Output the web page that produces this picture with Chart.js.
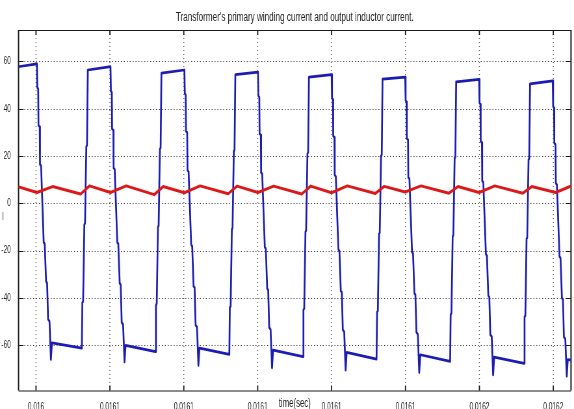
<!DOCTYPE html>
<html>
<head>
<meta charset="utf-8">
<script src="https://cdn.jsdelivr.net/npm/chart.js@4.4.1/dist/chart.umd.min.js"></script>
<style>
  html, body { margin: 0; padding: 0; background: #fff; overflow: hidden; }
  /* the figure is drawn wide and squeezed horizontally, like the exported scope plot */
  #wrap { width: 883px; height: 409px; transform: scaleX(0.65006); transform-origin: 0 0; }
</style>
</head>
<body>
<div id="wrap"><canvas id="chart" width="883" height="409"></canvas></div>
<script>
const TITLE = "Transformer's primary winding current and output inductor current.";
const X_TITLE = 'time(sec)';
const Y_TITLE = 'I';

// time axis in microseconds after t = 16 ms
const X_MIN = 24.09;
const X_MAX = 210.99;
const X_TICKS = [30, 55, 80, 105, 130, 155, 180, 205];
const X_TICK_LABELS = ['0.016', '0.0161', '0.0161', '0.0161', '0.0161', '0.0161', '0.0162', '0.0162'];

const Y_MIN = -79.1;
const Y_MAX = 73.3;
const Y_TICKS = [-60, -40, -20, 0, 20, 40, 60];

// transformer primary current: one line per switching period (fall, trough end, rise)
const PRIMARY_T = [
  22.6,
  30.30, 30.44, 30.74, 30.84, 31.25, 31.35, 31.72, 32.60, 32.94, 33.41, 33.75, 34.09, 34.56, 35.04, 35.40, 45.50, 45.67, 45.94, 46.35, 46.58, 47.02, 47.26, 47.53,
  55.20, 55.34, 55.64, 55.74, 56.15, 56.25, 56.62, 57.50, 57.84, 58.31, 58.65, 58.99, 59.46, 59.94, 60.30, 70.40, 70.57, 70.84, 71.25, 71.48, 71.92, 72.16, 72.43,
  80.20, 80.34, 80.64, 80.74, 81.15, 81.25, 81.62, 82.50, 82.84, 83.31, 83.65, 83.99, 84.46, 84.94, 85.30, 95.40, 95.57, 95.84, 96.25, 96.48, 96.92, 97.16, 97.43,
  105.10, 105.24, 105.54, 105.64, 106.05, 106.15, 106.52, 107.40, 107.74, 108.21, 108.55, 108.89, 109.36, 109.84, 110.20, 120.30, 120.47, 120.74, 121.15, 121.38, 121.82, 122.06, 122.33,
  130.00, 130.14, 130.44, 130.54, 130.95, 131.05, 131.42, 132.30, 132.64, 133.11, 133.45, 133.79, 134.26, 134.74, 135.10, 145.20, 145.37, 145.64, 146.05, 146.28, 146.72, 146.96, 147.23,
  154.90, 155.04, 155.34, 155.44, 155.85, 155.95, 156.32, 157.20, 157.54, 158.01, 158.35, 158.69, 159.16, 159.64, 160.00, 170.10, 170.27, 170.54, 170.95, 171.18, 171.62, 171.86, 172.13,
  179.90, 180.04, 180.34, 180.44, 180.85, 180.95, 181.32, 182.20, 182.54, 183.01, 183.35, 183.69, 184.16, 184.64, 185.00, 195.10, 195.27, 195.54, 195.95, 196.18, 196.62, 196.86, 197.13,
  204.80, 204.94, 205.24, 205.34, 205.75, 205.85, 206.22, 207.10, 207.44, 207.91, 208.25, 208.59, 209.06, 209.54, 209.90, 212.00
];
const PRIMARY_I = [
  57.5,
  59.0, 49.0, 48.4, 33.0, 32.4, 16.5, 15.9, -16.5, -17.1, -33.0, -33.6, -49.0, -49.8, -66.0, -59.0, -61.2, -42.0, -41.4, -9.0, -8.4, 24.0, 24.6, 56.4,
  57.8, 47.5, 46.9, 31.5, 30.9, 15.0, 14.4, -16.5, -17.1, -33.8, -34.4, -50.4, -51.2, -67.0, -60.0, -62.7, -43.0, -42.4, -10.0, -9.4, 23.0, 23.6, 55.1,
  56.4, 46.5, 45.9, 30.5, 29.9, 14.0, 13.4, -17.5, -18.1, -35.0, -35.6, -51.5, -52.3, -68.5, -61.2, -63.8, -44.0, -43.4, -11.0, -10.4, 22.0, 22.6, 54.4,
  55.5, 45.5, 44.9, 29.5, 28.9, 13.0, 12.4, -18.5, -19.1, -36.0, -36.6, -52.5, -53.3, -69.5, -62.0, -64.8, -45.0, -44.4, -12.0, -11.4, 21.0, 21.6, 53.4,
  54.4, 44.5, 43.9, 28.5, 27.9, 12.0, 11.4, -19.5, -20.1, -37.0, -37.6, -53.5, -54.3, -70.5, -63.0, -65.8, -46.0, -45.4, -13.0, -12.4, 20.0, 20.6, 52.5,
  53.4, 43.5, 42.9, 27.5, 26.9, 11.0, 10.4, -20.5, -21.1, -38.0, -38.6, -54.5, -55.3, -71.5, -64.0, -66.8, -47.0, -46.4, -14.0, -13.4, 19.0, 19.6, 51.4,
  52.4, 42.5, 41.9, 26.3, 25.7, 9.5, 8.9, -21.5, -22.1, -39.0, -39.6, -55.5, -56.3, -72.5, -65.0, -67.6, -48.0, -47.4, -15.0, -14.4, 18.4, 19.0, 50.5,
  51.8, 41.0, 40.4, 25.5, 24.9, 8.5, 7.9, -22.5, -23.1, -40.0, -40.6, -56.5, -57.3, -73.0, -66.0, -66.4
];

// output inductor current ripple
const INDUCTOR_T = [
  23.2,
  30.3, 35.6, 45.1, 48.1,
  55.2, 60.5, 70.0, 73.0,
  80.2, 85.5, 95.0, 98.0,
  105.1, 110.4, 119.9, 122.9,
  130.0, 135.3, 144.8, 147.8,
  154.9, 160.2, 169.7, 172.7,
  179.9, 185.2, 194.7, 197.7,
  205.8, 211.5
];
const INDUCTOR_I = [
  7.3,
  4.6, 7.1, 4.0, 7.4,
  4.6, 7.4, 3.7, 7.1,
  4.5, 7.4, 4.1, 7.3,
  4.6, 7.3, 4.0, 7.3,
  4.5, 7.4, 4.2, 7.2,
  4.8, 7.4, 4.3, 7.1,
  4.6, 7.4, 4.3, 7.1,
  4.6, 7.6
];

const FONT = 'Liberation Sans, Arial, sans-serif';
const SX = 0.65006; // horizontal squeeze of the wrapper

const toPoints = (ts, vs) => ts.map((t, i) => ({ x: t, y: vs[i] }));

// dotted grid, inward ticks and box around the axes
const axesBox = {
  id: 'axesBox',
  beforeDatasetsDraw(chart) {
    const { ctx, chartArea: a, scales: { x, y } } = chart;
    ctx.save();
    ctx.strokeStyle = 'rgba(0,0,0,0.75)';
    ctx.lineWidth = 1;
    ctx.setLineDash([1.5, 3]);
    Y_TICKS.forEach(v => {
      const py = Math.round(y.getPixelForValue(v)) + 0.5;
      ctx.beginPath(); ctx.moveTo(a.left, py); ctx.lineTo(a.right, py); ctx.stroke();
    });
    ctx.strokeStyle = 'rgba(0,0,0,0.6)';
    ctx.lineWidth = 1.5;
    ctx.setLineDash([1, 3]);
    X_TICKS.forEach(v => {
      const px = x.getPixelForValue(v);
      ctx.beginPath(); ctx.moveTo(px, a.top); ctx.lineTo(px, a.bottom); ctx.stroke();
    });
    ctx.setLineDash([]);

    // tick marks pointing into the plot
    ctx.strokeStyle = '#1a1a1a';
    ctx.lineWidth = 1.2;
    const tl = 5 / SX;
    Y_TICKS.forEach(v => {
      const py = Math.round(y.getPixelForValue(v)) + 0.5;
      ctx.beginPath();
      ctx.moveTo(a.left, py); ctx.lineTo(a.left + tl, py);
      ctx.moveTo(a.right, py); ctx.lineTo(a.right - tl, py);
      ctx.stroke();
    });
    ctx.lineWidth = 1.8;
    X_TICKS.forEach(v => {
      const px = x.getPixelForValue(v);
      ctx.beginPath();
      ctx.moveTo(px, a.bottom); ctx.lineTo(px, a.bottom - 5);
      ctx.moveTo(px, a.top); ctx.lineTo(px, a.top + 5);
      ctx.stroke();
    });

    // box
    ctx.lineWidth = 1.2;
    ctx.beginPath();
    ctx.moveTo(a.left, a.top + 0.5); ctx.lineTo(a.right, a.top + 0.5);
    ctx.moveTo(a.left, a.bottom + 0.5); ctx.lineTo(a.right, a.bottom + 0.5);
    ctx.stroke();
    ctx.lineWidth = 2;
    ctx.beginPath();
    ctx.moveTo(a.left, a.top); ctx.lineTo(a.left, a.bottom);
    ctx.moveTo(a.right, a.top); ctx.lineTo(a.right, a.bottom);
    ctx.stroke();
    ctx.restore();
  },
  afterDraw(chart) {
    const { ctx, chartArea: a } = chart;
    ctx.save();
    ctx.fillStyle = '#222';
    ctx.textBaseline = 'middle';
    ctx.textAlign = 'center';
    ctx.font = '12px ' + FONT;
    ctx.fillText(X_TITLE, (a.left + a.right) / 2, 404);
    ctx.font = '10px ' + FONT;
    ctx.fillText(Y_TITLE, 4.6, 217);
    ctx.restore();
  }
};

new Chart(document.getElementById('chart'), {
  type: 'line',
  data: {
    datasets: [
      {
        label: 'Output inductor current',
        data: toPoints(INDUCTOR_T, INDUCTOR_I),
        borderColor: '#dc1818',
        borderWidth: 3,
        pointRadius: 0,
        tension: 0,
        clip: 0,
        borderJoinStyle: 'round'
      },
      {
        label: 'Primary winding current',
        data: toPoints(PRIMARY_T, PRIMARY_I),
        borderColor: '#1c1cb4',
        borderWidth: 2.7,
        pointRadius: 0,
        tension: 0,
        clip: 0,
        borderJoinStyle: 'round'
      }
    ]
  },
  options: {
    responsive: false,
    animation: false,
    layout: { padding: { left: 0, right: 4.6, top: 0, bottom: 0 } },
    plugins: {
      legend: { display: false },
      tooltip: { enabled: false },
      title: {
        display: true,
        text: TITLE,
        fullSize: false,
        color: '#222',
        font: { family: FONT, size: 12.5, weight: 'normal' },
        padding: { top: 10, bottom: 5 }
      }
    },
    scales: {
      x: {
        type: 'linear',
        min: X_MIN,
        max: X_MAX,
        grid: { display: false },
        border: { display: false },
        afterBuildTicks: s => { s.ticks = X_TICKS.map(v => ({ value: v })); },
        afterFit: s => { s.height = 18.5; },
        ticks: {
          callback: (v, i) => X_TICK_LABELS[i],
          autoSkip: false,
          maxRotation: 0,
          padding: 3,
          color: '#222',
          font: { family: FONT, size: 10 }
        }
      },
      y: {
        type: 'linear',
        min: Y_MIN,
        max: Y_MAX,
        grid: { display: false },
        border: { display: false },
        afterBuildTicks: s => { s.ticks = Y_TICKS.map(v => ({ value: v })); },
        afterFit: s => { s.width = 28.5; },
        ticks: {
          callback: v => String(v),
          padding: 4,
          color: '#222',
          font: { family: FONT, size: 10 }
        }
      }
    }
  },
  plugins: [axesBox]
});
</script>
</body>
</html>
